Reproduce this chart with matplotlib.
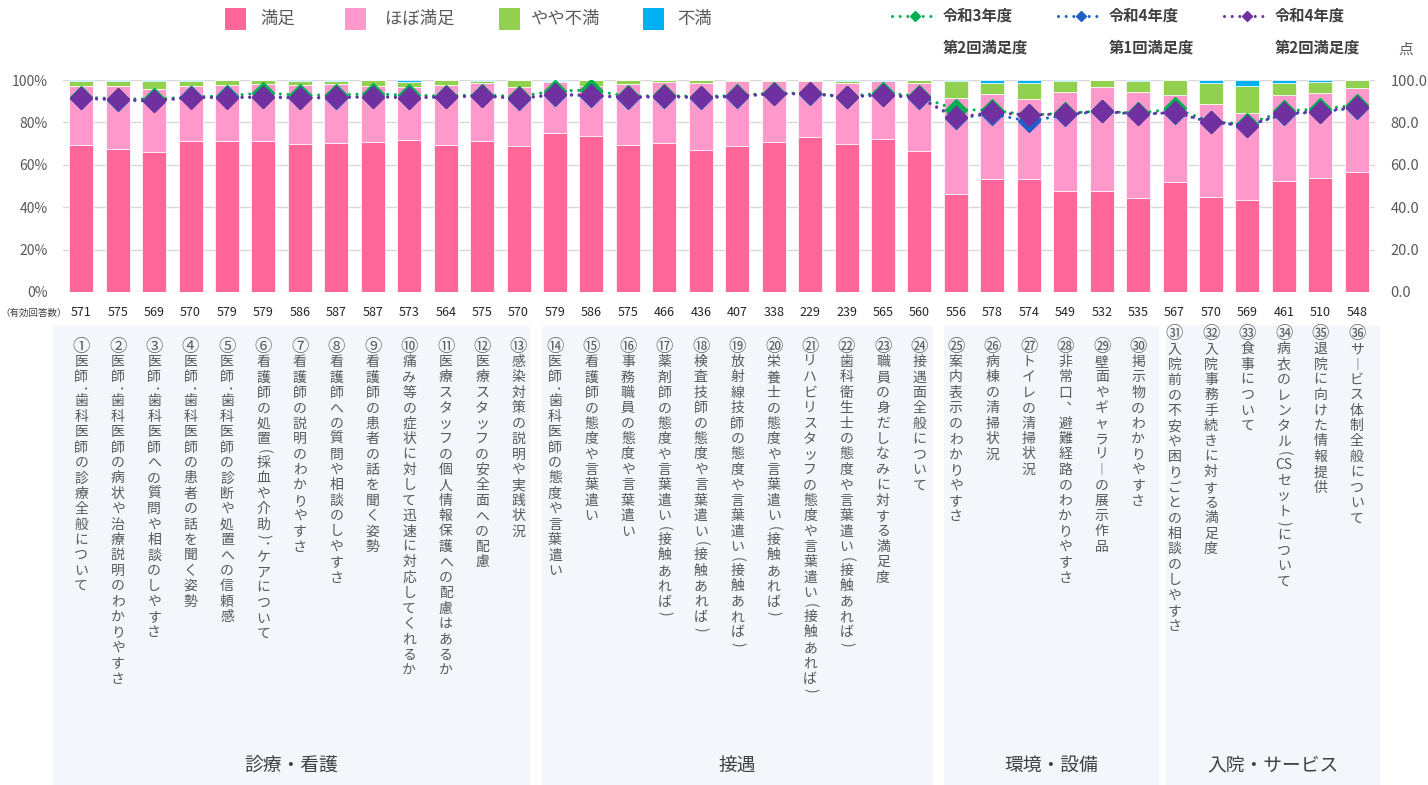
import re
import numpy as np
import matplotlib
matplotlib.use("Agg")
import matplotlib.pyplot as plt
import matplotlib.transforms as mtransforms
from matplotlib.patches import Rectangle
from matplotlib.lines import Line2D

plt.rcParams['font.family'] = ['Noto Sans CJK JP', 'DejaVu Sans']

# ---- data ----
items = [
    "①医師・歯科医師の診療全般について",
    "②医師・歯科医師の病状や治療説明のわかりやすさ",
    "③医師・歯科医師への質問や相談のしやすさ",
    "④医師・歯科医師の患者の話を聞く姿勢",
    "⑤医師・歯科医師の診断や処置への信頼感",
    "⑥看護師の処置（採血や介助）・ケアについて",
    "⑦看護師の説明のわかりやすさ",
    "⑧看護師への質問や相談のしやすさ",
    "⑨看護師の患者の話を聞く姿勢",
    "⑩痛み等の症状に対して迅速に対応してくれるか",
    "⑪医療スタッフの個人情報保護への配慮はあるか",
    "⑫医療スタッフの安全面への配慮",
    "⑬感染対策の説明や実践状況",
    "⑭医師・歯科医師の態度や言葉遣い",
    "⑮看護師の態度や言葉遣い",
    "⑯事務職員の態度や言葉遣い",
    "⑰薬剤師の態度や言葉遣い（接触あれば）",
    "⑱検査技師の態度や言葉遣い（接触あれば）",
    "⑲放射線技師の態度や言葉遣い（接触あれば）",
    "⑳栄養士の態度や言葉遣い（接触あれば）",
    "㉑リハビリスタッフの態度や言葉遣い（接触あれば）",
    "㉒歯科衛生士の態度や言葉遣い（接触あれば）",
    "㉓職員の身だしなみに対する満足度",
    "㉔接遇面全般について",
    "㉕案内表示のわかりやすさ",
    "㉖病棟の清掃状況",
    "㉗トイレの清掃状況",
    "㉘非常口、避難経路のわかりやすさ",
    "㉙壁面やギャラリーの展示作品",
    "㉚掲示物のわかりやすさ",
    "㉛入院前の不安や困りごとの相談のしやすさ",
    "㉜入院事務手続きに対する満足度",
    "㉝食事について",
    "㉞病衣のレンタル（CSセット）について",
    "㉟退院に向けた情報提供",
    "㊱サービス体制全般について",
]
counts = [571, 575, 569, 570, 579, 579, 586, 587, 587, 573, 564, 575, 570,
          579, 586, 575, 466, 436, 407, 338, 229, 239, 565, 560,
          556, 578, 574, 549, 532, 535, 567, 570, 569, 461, 510, 548]

manzoku = [69.3, 67.6, 66.2, 71.1, 71.4, 71.4, 69.7, 70.1, 70.6, 71.9, 69.5, 71.4, 69.0,
           75.1, 73.7, 69.5, 70.1, 67.1, 68.9, 70.9, 73.3, 69.7, 72.3, 66.7,
           46.2, 53.1, 53.1, 47.5, 47.8, 44.5, 52.0, 45.0, 43.6, 52.5, 53.9, 56.8]
hobo = [28.0, 29.6, 29.4, 26.2, 26.4, 26.6, 28.1, 27.9, 26.7, 24.8, 28.1, 27.2, 27.7,
        23.8, 23.5, 28.8, 29.1, 31.5, 30.4, 28.6, 26.2, 28.9, 27.2, 31.9,
        45.2, 40.4, 37.8, 46.7, 48.9, 49.8, 40.9, 43.5, 41.0, 40.3, 39.8, 39.3]
yaya = [2.2, 2.2, 3.8, 2.2, 2.2, 2.0, 1.9, 1.5, 2.5, 2.3, 2.2, 1.1, 3.1,
        0.6, 2.6, 1.5, 0.6, 1.2, 0.5, 0.3, 0.3, 0.8, 0.0, 1.2,
        8.3, 5.2, 7.8, 5.2, 3.1, 5.1, 6.9, 10.1, 12.7, 5.6, 5.5, 3.7]
fuman = [0.5, 0.6, 0.6, 0.5, 0.0, 0.0, 0.3, 0.5, 0.2, 1.0, 0.2, 0.3, 0.2,
         0.5, 0.2, 0.2, 0.2, 0.2, 0.2, 0.2, 0.2, 0.6, 0.5, 0.2,
         0.3, 1.3, 1.3, 0.6, 0.2, 0.6, 0.2, 1.4, 2.7, 1.6, 0.8, 0.2]

r3_2 = [91.9, 91.2, 91.0, 92.0, 92.5, 94.0, 92.8, 93.0, 93.5, 92.8, 92.5, 93.0, 92.2,
        94.9, 95.2, 92.3, 92.7, 92.2, 92.7, 93.9, 93.7, 92.2, 94.0, 92.3,
        86.0, 85.8, 83.5, 84.3, 85.4, 84.2, 86.6, 80.3, 79.2, 85.4, 86.3, 88.2]
r4_1 = [91.4, 90.6, 90.0, 92.0, 91.8, 91.8, 91.5, 91.6, 92.2, 91.6, 91.9, 92.6, 91.2,
        93.0, 92.6, 91.6, 92.2, 91.6, 92.2, 93.6, 93.4, 92.0, 92.8, 91.6,
        82.0, 84.0, 80.5, 83.5, 85.2, 83.8, 84.6, 80.0, 78.5, 83.8, 85.0, 86.8]
r4_2 = [91.4, 90.9, 90.2, 91.7, 91.7, 92.1, 91.7, 91.8, 92.1, 91.7, 92.1, 92.4, 91.4,
        93.2, 92.9, 91.8, 92.4, 91.8, 92.4, 93.4, 93.7, 92.1, 93.1, 91.8,
        82.4, 84.7, 83.5, 84.0, 85.4, 84.0, 84.7, 80.3, 78.3, 84.3, 85.1, 87.4]

groups = ["診療・看護", "接遇", "環境・設備", "入院・サービス"]

# ---- layout helpers (pixel -> figure fraction) ----
W, H = 1428, 785
def fx(px):
    return px / W
def fy(py):
    return 1 - py / H

C_MAN, C_HOBO, C_YAYA, C_FUMAN = '#FF6699', '#FF99CC', '#92D050', '#00B0F0'
C_R3, C_R41, C_R42 = '#00B050', '#1F5FC8', '#7030A0'
GRAY = '#595959'

fig = plt.figure(figsize=(W / 100, H / 100), dpi=100)

# 下部のグループ背景
panels = [(53, 530), (542, 933), (944, 1159), (1166, 1380)]
for x0, x1 in panels:
    fig.add_artist(Rectangle((fx(x0), 0), fx(x1) - fx(x0), fy(326), transform=fig.transFigure,
                             facecolor='#F3F6FA', edgecolor='none', zorder=0))

ax = fig.add_axes([fx(63), fy(292), fx(1375) - fx(63), fy(80) - fy(292)])
ax.patch.set_visible(False)
x = np.arange(len(items))
bw = 0.66

bottom = np.zeros(len(items))
for vals, col in [(manzoku, C_MAN), (hobo, C_HOBO), (yaya, C_YAYA), (fuman, C_FUMAN)]:
    ax.bar(x, vals, bw, bottom=bottom, color=col, edgecolor='white', linewidth=0.5, zorder=2)
    bottom += np.array(vals)

ax.set_xlim(-0.5, len(items) - 0.5)
ax.set_ylim(0, 100)
ax.set_yticks(np.arange(0, 101, 20))
ax.set_yticklabels([f"{v}%" for v in range(0, 101, 20)], fontsize=10, color=GRAY)
ax.yaxis.grid(True, color='#D9D9D9', linewidth=1, zorder=0)
ax.set_axisbelow(True)
ax.set_xticks(x)
ax.set_xticklabels([str(c) for c in counts], fontsize=9, color='#262626')
ax.tick_params(axis='x', length=0, pad=10)
ax.tick_params(axis='y', length=0, pad=11)
for s in ax.spines.values():
    s.set_visible(False)

ax2 = ax.twinx()
ax2.set_ylim(0, 100)
ax2.set_yticks(np.arange(0, 101, 20))
ax2.set_yticklabels([f"{v:.1f}" for v in range(0, 101, 20)], fontsize=10.5, color=GRAY)
ax2.tick_params(axis='y', length=0, pad=11)
for s in ax2.spines.values():
    s.set_visible(False)

dot = (0, (0.01, 2.5))
for vals, col, ms in [(r3_2, C_R3, 11.5), (r4_1, C_R41, 11), (r4_2, C_R42, 11)]:
    ax2.plot(x, vals, color=col, lw=2.2, linestyle=dot, dash_capstyle='round',
             marker='D', ms=ms, mfc=col, mec=col, mew=1, zorder=3)

# 有効回答数
fig.text(fx(0), fy(313), "（有効回答数）", fontsize=6.8, color='#404040', ha='left', va='center')

# 縦書きの項目名（括弧・中黒は横倒しにして半角送り）
half = {"（": "(", "）": ")", "・": "･"}
vert = {"、": "︑", "ー": "︱"}
trans = mtransforms.blended_transform_factory(ax.transData, fig.transFigure)
step = 15.4
for i, name in enumerate(items):
    pos = 326 if i >= 30 else 339
    for k, ch in enumerate(re.findall(r'[A-Za-z]+|.', name)):
        if ch in half:
            fig.text(i, fy(pos + 0.55 * step / 2), half[ch], transform=trans, rotation=-90,
                     ha='center', va='center', fontsize=10, color=GRAY)
            pos += 0.55 * step
            continue
        fs = 12.5 if k == 0 else 10
        fig.text(i, fy(pos + step / 2), vert.get(ch, ch), transform=trans,
                 ha='center', va='center', fontsize=fs, color=GRAY)
        pos += step

# グループ名
for (x0, x1), g in zip(panels, groups):
    fig.text(fx((x0 + x1) / 2), fy(765), g, ha='center', va='center', fontsize=13.5, color='#404040')

# 凡例（棒）
leg_bars = [("満足", C_MAN, 225, 260), ("ほぼ満足", C_HOBO, 345, 385),
            ("やや不満", C_YAYA, 499, 531), ("不満", C_FUMAN, 643, 677)]
for lab, col, px, tx in leg_bars:
    fig.add_artist(Rectangle((fx(px), fy(30)), fx(21), fy(8) - fy(30), transform=fig.transFigure,
                             facecolor=col, edgecolor='none'))
    fig.text(fx(tx), fy(19), lab, ha='left', va='center', fontsize=12.5, color=GRAY)

# 凡例（線）
leg_lines = [("令和3年度", "第2回満足度", C_R3, 892, 938, 943),
             ("令和4年度", "第1回満足度", C_R41, 1058, 1104, 1109),
             ("令和4年度", "第2回満足度", C_R42, 1224, 1270, 1275)]
for l1, l2, col, a, b, tx in leg_lines:
    fig.add_artist(Line2D([fx(a), fx((a + b) / 2), fx(b)], [fy(16)] * 3, transform=fig.transFigure,
                          color=col, lw=2.2, linestyle=dot, dash_capstyle='round',
                          marker='D', ms=5, mfc=col, mec=col, markevery=[1]))
    fig.text(fx(tx), fy(16), l1, ha='left', va='center', fontsize=11, fontweight='bold', color='#404040')
    fig.text(fx(tx), fy(48), l2, ha='left', va='center', fontsize=11, fontweight='bold', color='#404040')

fig.text(fx(1406), fy(50), "点", ha='center', va='center', fontsize=10.5, color=GRAY)

fig.savefig("out.png", dpi=100)
